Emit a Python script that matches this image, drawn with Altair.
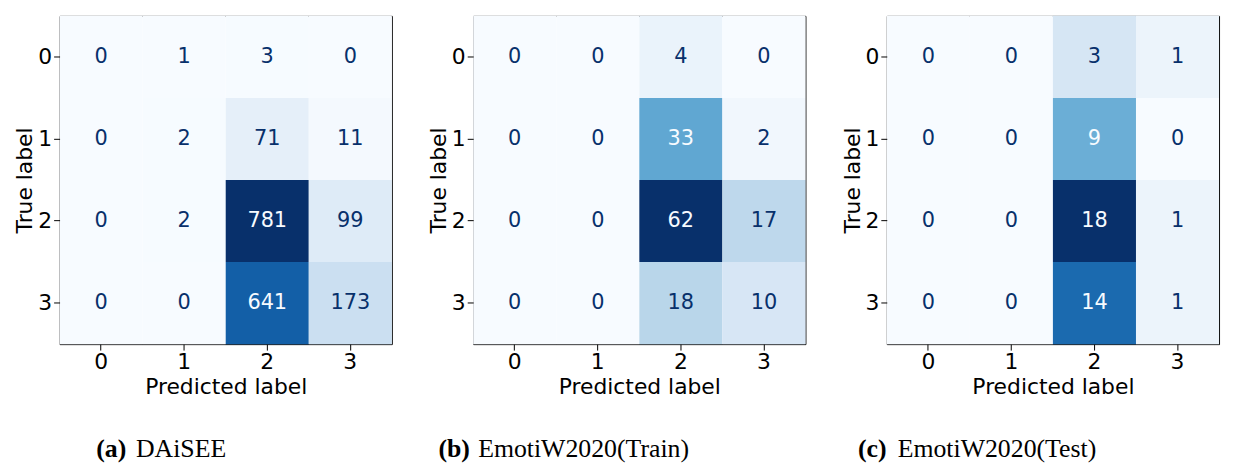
import altair as alt
import pandas as pd

labels = [0, 1, 2, 3]

daisee = [
    [0, 1, 3, 0],
    [0, 2, 71, 11],
    [0, 2, 781, 99],
    [0, 0, 641, 173],
]
emoti_train = [
    [0, 0, 4, 0],
    [0, 0, 33, 2],
    [0, 0, 62, 17],
    [0, 0, 18, 10],
]
emoti_test = [
    [0, 0, 3, 1],
    [0, 0, 9, 0],
    [0, 0, 18, 1],
    [0, 0, 14, 1],
]

tags = ["(a)", "(b)", "(c)"]
names = ["DAiSEE", "EmotiW2020(Train)", "EmotiW2020(Test)"]

BLUES = ["#f7fbff", "#deebf7", "#c6dbef", "#9ecae1", "#6baed6",
         "#4292c6", "#2171b5", "#08519c", "#08306b"]

W, H = 335, 331
SANS = "DejaVu Sans"
SERIF = "Liberation Serif"

# caption placement (pixels relative to plot-area origin)
cap_x = [37, -35, -29]
CAP_GAP = 40
CAP_Y = 445


def panel(mat, tag, name, cx):
    rows = []
    for i, t in enumerate(labels):
        for j, p in enumerate(labels):
            rows.append({"true": t, "pred": p, "value": mat[i][j]})
    df = pd.DataFrame(rows)
    vmin = min(min(r) for r in mat)
    vmax = max(max(r) for r in mat)
    thresh = (vmin + vmax) / 2
    dom = [vmin + (vmax - vmin) * k / 8 for k in range(9)]

    xenc = alt.X("pred:O", sort=labels,
                 scale=alt.Scale(paddingInner=0, paddingOuter=0),
                 axis=alt.Axis(title="Predicted label"))
    yenc = alt.Y("true:O", sort=labels,
                 scale=alt.Scale(paddingInner=0, paddingOuter=0),
                 axis=alt.Axis(title="True label"))
    base = alt.Chart(df)
    rect = base.mark_rect().encode(
        x=xenc, y=yenc,
        color=alt.Color("value:Q",
                        scale=alt.Scale(domain=dom, range=BLUES, nice=False,
                                        interpolate="rgb"),
                        legend=None),
    )
    text = base.mark_text(font=SANS, fontSize=21, baseline="middle").encode(
        x=xenc, y=yenc,
        text="value:Q",
        color=alt.condition(f"datum.value >= {thresh}",
                            alt.value("#f7fbff"), alt.value("#08306b")),
    )
    cap_tag = alt.Chart(pd.DataFrame({"t": [tag]})).mark_text(
        font=SERIF, fontSize=26, fontWeight="bold", align="left",
        baseline="alphabetic", color="black"
    ).encode(x=alt.value(cx), y=alt.value(CAP_Y), text="t:N")
    cap_name = alt.Chart(pd.DataFrame({"t": [name]})).mark_text(
        font=SERIF, fontSize=26, align="left", baseline="alphabetic",
        color="black"
    ).encode(x=alt.value(cx + CAP_GAP), y=alt.value(CAP_Y), text="t:N")
    return alt.layer(rect, text, cap_tag, cap_name).properties(width=W, height=H)


mats = [daisee, emoti_train, emoti_test]
chart = alt.hconcat(
    *[panel(m, t, n, x) for m, t, n, x in zip(mats, tags, names, cap_x)],
    spacing=82, bounds="flush",
).resolve_scale(
    color="independent"
).configure_view(
    stroke="black", strokeWidth=1
).configure_axis(
    labelFont=SANS, labelFontSize=22, labelColor="black", labelAngle=0,
    titleFont=SANS, titleFontSize=22, titleFontWeight="normal",
    titleColor="black", tickColor="black", tickSize=6, domain=False,
    grid=False,
).configure_axisX(
    labelPadding=2, titlePadding=4
).configure_axisY(
    labelPadding=2, titlePadding=1
).properties(background="white")

chart.save("out.html", embed_options={"renderer": "svg", "actions": False})
